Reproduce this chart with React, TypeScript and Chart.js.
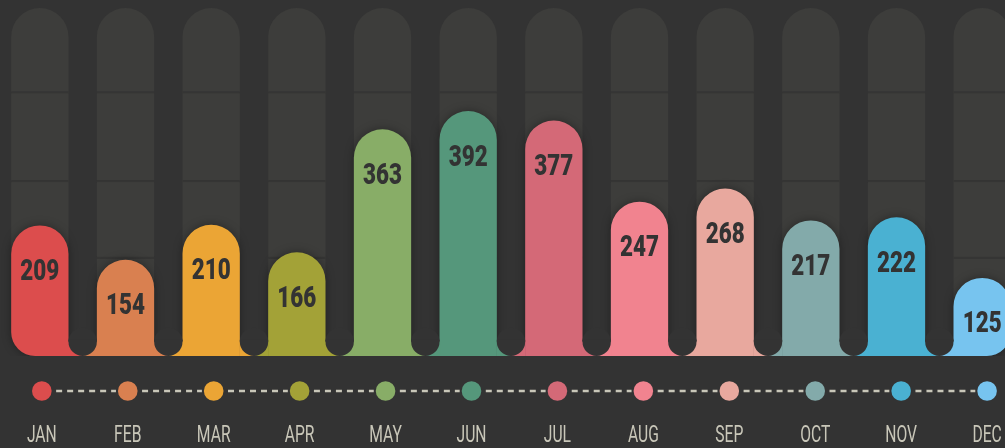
import React, { useEffect, useRef } from "react";
import { Chart, registerables } from "chart.js";

Chart.register(...registerables);

const months = ["JAN", "FEB", "MAR", "APR", "MAY", "JUN", "JUL", "AUG", "SEP", "OCT", "NOV", "DEC"];
const values = [209, 154, 210, 166, 363, 392, 377, 247, 268, 217, 222, 125];
const colors = [
  "#dc4d4d", "#d98050", "#eba535", "#a3a237", "#88ad67", "#55977b",
  "#d46977", "#f1838f", "#e8a89e", "#83aaaa", "#4ab1d2", "#77c4ef",
];
const trackMax = 557;
const gridValues = [157, 280, 422];

const BG = "#333333";
const TRACK = "#3d3d3b";
const GRID = "#353534";
const LIGHT = "#c9c7b9";
const LABEL_DARK = "#333333";

function condensedText(ctx: CanvasRenderingContext2D, text: string, x: number, y: number, sx: number) {
  ctx.save();
  ctx.translate(x, y);
  ctx.scale(sx, 1);
  ctx.fillText(text, 0, 0);
  ctx.restore();
}

export default function App() {
  const ref = useRef<HTMLCanvasElement>(null);

  useEffect(() => {
    const canvas = ref.current;
    if (!canvas) return;

    const deco = {
      id: "deco",
      beforeDatasetDraw(chart: any, args: any) {
        if (args.index === 0) {
          const ctx = chart.ctx;
          ctx.save();
          ctx.shadowColor = "rgba(0,0,0,0.35)";
          ctx.shadowBlur = 10;
        }
      },
      afterDatasetDraw(chart: any, args: any) {
        const ctx: CanvasRenderingContext2D = chart.ctx;
        const yS = chart.scales.y;
        if (args.index === 1) {
          const meta = chart.getDatasetMeta(1);
          ctx.fillStyle = GRID;
          meta.data.forEach((bar: any) => {
            const { x, width } = bar.getProps(["x", "width"], true);
            gridValues.forEach((g) => {
              const y = yS.getPixelForValue(g);
              ctx.fillRect(x - width / 2, y - 1, width, 2);
            });
          });
        }
        if (args.index === 0) {
          ctx.restore();
          const meta = chart.getDatasetMeta(0);
          const y0 = yS.getPixelForValue(0);
          const bars = meta.data.map((b: any) => b.getProps(["x", "y", "width"], true));
          for (let i = 0; i < bars.length - 1; i++) {
            const a = bars[i].x + bars[i].width / 2;
            const b = bars[i + 1].x - bars[i + 1].width / 2;
            const c = (a + b) / 2;
            const r = (b - a) / 2;
            ctx.fillStyle = colors[i];
            ctx.fillRect(a - 0.5, y0 - r - 1, c - a + 0.5, r + 1);
            ctx.fillStyle = colors[i + 1];
            ctx.fillRect(c, y0 - r - 1, b - c + 0.5, r + 1);
            ctx.fillStyle = BG;
            ctx.beginPath();
            ctx.arc(c, y0 - r, r, 0, Math.PI * 2);
            ctx.fill();
            ctx.fillRect(a, y0 - r - 2, b - a, 2);
          }
          ctx.fillStyle = LABEL_DARK;
          ctx.font = '900 30px Roboto, "DejaVu Sans", sans-serif';
          ctx.textAlign = "center";
          ctx.textBaseline = "alphabetic";
          const sx = 39 / ctx.measureText("392").width;
          bars.forEach((bar: any, i: number) => {
            condensedText(ctx, String(values[i]), bar.x, bar.y + 54.5, sx);
          });
        }
      },
      afterDraw(chart: any) {
        const ctx: CanvasRenderingContext2D = chart.ctx;
        const xS = chart.scales.x;
        const yS = chart.scales.y;
        const y0 = yS.getPixelForValue(0);
        const dotY = y0 + 35;
        const labelY = y0 + 86;
        const dotR = 9.8;
        const first = xS.getPixelForValue(0);
        const fx = (i: number) => first + 2 + (xS.getPixelForValue(i) - first) * 1.0031;
        ctx.save();
        ctx.strokeStyle = LIGHT;
        ctx.lineWidth = 2.7;
        ctx.setLineDash([6, 5]);
        for (let i = 0; i < months.length - 1; i++) {
          const xa = fx(i) + dotR + 4.5;
          const xb = fx(i + 1) - dotR - 2;
          ctx.beginPath();
          ctx.moveTo(xa, dotY);
          ctx.lineTo(xb, dotY);
          ctx.stroke();
        }
        ctx.restore();
        months.forEach((_, i) => {
          ctx.fillStyle = colors[i];
          ctx.beginPath();
          ctx.arc(fx(i), dotY, dotR, 0, Math.PI * 2);
          ctx.fill();
        });
        ctx.fillStyle = LIGHT;
        ctx.font = '24.5px Roboto, "DejaVu Sans", sans-serif';
        ctx.textAlign = "center";
        ctx.textBaseline = "alphabetic";
        const sx = 30 / ctx.measureText("JUN").width;
        months.forEach((m, i) => {
          condensedText(ctx, m, fx(i), labelY, sx);
        });
      },
    };

    const radius = (c: any) => ({
      topLeft: 40,
      topRight: 40,
      bottomLeft: c.dataIndex === 0 ? 24 : 0,
      bottomRight: c.dataIndex === months.length - 1 ? 24 : 0,
    });

    const chart = new Chart(canvas, {
      type: "bar",
      data: {
        labels: months,
        datasets: [
          {
            data: values,
            backgroundColor: colors,
            borderWidth: 0,
            borderRadius: radius as any,
            borderSkipped: false,
            barPercentage: 0.669,
            categoryPercentage: 1,
            grouped: false,
          } as any,
          {
            data: months.map(() => trackMax),
            backgroundColor: TRACK,
            borderWidth: 0,
            borderRadius: radius as any,
            borderSkipped: false,
            barPercentage: 0.669,
            categoryPercentage: 1,
            grouped: false,
          } as any,
        ],
      },
      options: {
        animation: false,
        responsive: false,
        events: [],
        layout: { padding: { top: 8, bottom: 92, left: 0, right: 0 } },
        scales: {
          x: { display: false, offset: true },
          y: { display: false, min: 0, max: trackMax },
        },
        plugins: { legend: { display: false }, tooltip: { enabled: false } },
      },
      plugins: [deco as any],
    });

    return () => chart.destroy();
  }, []);

  return (
    <div
      style={{
        position: "fixed",
        left: 0,
        top: 0,
        width: 1005,
        height: 448,
        overflow: "hidden",
        background: BG,
      }}
    >
      <canvas
        ref={ref}
        width={1028}
        height={448}
        style={{ position: "absolute", left: -3, top: 0, width: 1028, height: 448 }}
      />
    </div>
  );
}
